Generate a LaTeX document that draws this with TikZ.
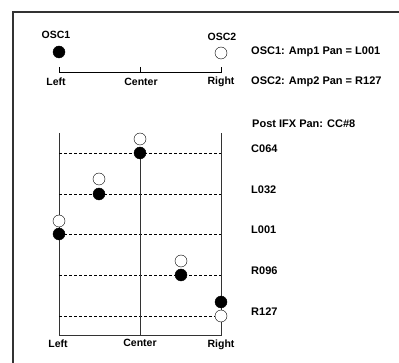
\documentclass[tikz,border=0pt]{standalone}
\usepackage{fontspec}
\setmainfont{Liberation Sans}
\begin{document}
\begin{tikzpicture}[x=1pt,y=-1pt,
  font=\bfseries\fontsize{10.5}{12}\selectfont,
  dot/.style={circle,draw,fill=black,minimum size=12pt,inner sep=0pt},
  ring/.style={circle,draw,fill=white,minimum size=12pt,inner sep=0pt},
  readout/.style={anchor=west,inner sep=0pt,font=\bfseries\fontsize{11}{13}\selectfont}]
  \useasboundingbox (0,0) rectangle (399,363);
  \draw [line width=1.2pt, black!80] (399,12) -- (13,12) -- (13,363);
  % upper scale
  \draw (59,67) -- (59,72) -- (221,72) -- (221,67);
  \draw (140,67) -- (140,72);
  \node [dot] (osc1) at (59,52) {};
  \node [ring] (osc2) at (221,53) {};
  \node (osc1label) at (56,35) {OSC1};
  \node (osc2label) at (222,37) {OSC2};
  \node (topleft) at (56,82) {Left};
  \node (topcenter) at (141,82) {Center};
  \node (topright) at (221,82) {Right};
  \node [readout] (amp1) at (251,52) {OSC1: Amp1 Pan = L001};
  \node [readout] (amp2) at (251,82) {OSC2: Amp2 Pan = R127};
  \node [readout] (postifx) at (252,124) {Post IFX Pan: CC\#8};
  % lower frame
  \draw [black!80] (59,133) -- (59,335) -- (221,335) -- (221,133);
  \foreach \y/\val in {153/C064,194/L032,234/L001,275/R096,316/R127}{
    \draw [dash pattern=on 3pt off 2pt] (59,\y) -- (221,\y);
    \node [readout] at (251,\y-4) {\val};
  }
  \draw [black!80] (140,153) -- (140,335);
  % positions
  \node [ring] (c064o) at (140,139) {};
  \node [dot] (c064f) at (140,153) {};
  \node [ring] (l032o) at (99,179) {};
  \node [dot] (l032f) at (99,194) {};
  \node [ring] (l001o) at (59,221) {};
  \node [dot] (l001f) at (59,234) {};
  \node [ring] (r096o) at (181,261) {};
  \node [dot] (r096f) at (181,275) {};
  \node [dot] (r127f) at (221,302) {};
  \node [ring] (r127o) at (221,316) {};
  \node (botleft) at (58,344) {Left};
  \node (botcenter) at (140,343) {Center};
  \node (botright) at (221,345) {Right};
\end{tikzpicture}
\end{document}
